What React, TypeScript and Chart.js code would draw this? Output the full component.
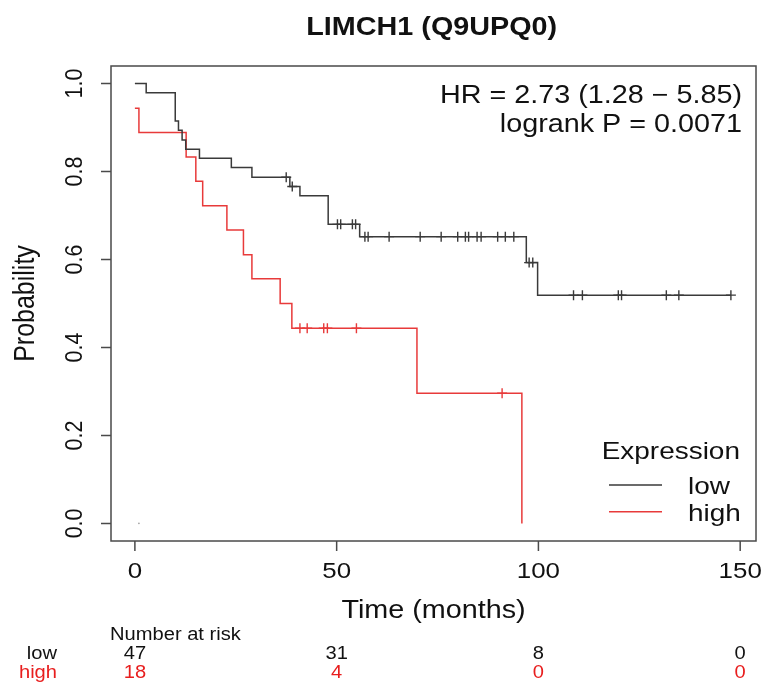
import React, { useEffect, useRef } from "react";
import { Chart, registerables } from "chart.js";

Chart.register(...registerables);

// ---- data ----
const lowTimes = [0, 2.8, 10.0, 10.8, 11.7, 12.6, 16.0, 23.9, 29.0, 38.4, 40.9, 47.9, 55.7, 97.0, 99.8, 147.7];
const lowSurv = [1.0, 0.979, 0.915, 0.894, 0.872, 0.851, 0.83, 0.809, 0.787, 0.766, 0.745, 0.68, 0.652, 0.593, 0.519, 0.519];
const lowCensor = [37.5, 39.0, 50.2, 51.0, 53.9, 54.7, 57.0, 57.8, 63.0, 70.7, 75.9, 80.0, 81.9, 82.7, 84.8, 85.8, 89.9, 91.8, 93.9, 97.7, 98.6, 108.7, 110.9, 119.8, 120.6, 131.7, 134.8, 147.7];

const highTimes = [0, 1.0, 12.7, 15.1, 16.8, 22.8, 26.9, 29.0, 36.0, 38.9, 69.9, 95.9];
const highSurv = [0.944, 0.889, 0.833, 0.778, 0.722, 0.667, 0.611, 0.556, 0.5, 0.444, 0.296, 0.0];
const highCensor = [40.9, 42.7, 46.8, 47.7, 54.9, 91.0];

const strayPoint = [{ x: 1, y: 0 }];

const xTicks = [0, 50, 100, 150];
const yTicks = [0, 0.2, 0.4, 0.6, 0.8, 1.0];

const riskTimes = [0, 50, 100, 150];
const riskLow = [47, 31, 8, 0];
const riskHigh = [18, 4, 0, 0];

const TITLE = "LIMCH1 (Q9UPQ0)";
const HR_TEXT = "HR = 2.73 (1.28 \u2212 5.85)";
const P_TEXT = "logrank P = 0.0071";

const LOW_COLOR = "#3a3a3a";
const HIGH_COLOR = "rgb(232,58,58)";
const FONT = "'Liberation Sans', Arial, Helvetica, sans-serif";

function survAt(times: number[], surv: number[], t: number) {
  let v = surv[0];
  for (let i = 0; i < times.length; i++) {
    if (times[i] <= t) v = surv[i];
  }
  return v;
}

function txt(
  ctx: CanvasRenderingContext2D,
  s: string,
  x: number,
  y: number,
  size: number,
  opts: { align?: CanvasTextAlign; bold?: boolean; color?: string; sx?: number; rot?: boolean } = {}
) {
  const { align = "left", bold = false, color = "#111", sx = 1.15, rot = false } = opts;
  ctx.save();
  ctx.translate(x, y);
  if (rot) {
    ctx.rotate(-Math.PI / 2);
    ctx.scale(1, sx);
  } else {
    ctx.scale(sx, 1);
  }
  ctx.font = `${bold ? "bold " : ""}${size}px ${FONT}`;
  ctx.fillStyle = color;
  ctx.textAlign = align;
  ctx.textBaseline = "alphabetic";
  ctx.fillText(s, 0, 0);
  ctx.restore();
}

const decorPlugin = {
  id: "kmDecor",
  afterDraw(chart: any) {
    const ctx: CanvasRenderingContext2D = chart.ctx;
    const { left, top, right, bottom } = chart.chartArea;
    const xs = chart.scales.x;
    const ys = chart.scales.y;
    ctx.save();
    // box
    ctx.strokeStyle = "#4a4a4a";
    ctx.lineWidth = 1.5;
    ctx.strokeRect(left, top, right - left, bottom - top);
    // x ticks
    ctx.beginPath();
    for (const v of xTicks) {
      const px = xs.getPixelForValue(v);
      ctx.moveTo(px, bottom);
      ctx.lineTo(px, bottom + 10);
    }
    for (const v of yTicks) {
      const py = ys.getPixelForValue(v);
      ctx.moveTo(left, py);
      ctx.lineTo(left - 10, py);
    }
    ctx.stroke();
    for (const v of xTicks) {
      txt(ctx, String(v), xs.getPixelForValue(v), 578, 22.5, { align: "center" });
    }
    for (const v of yTicks) {
      txt(ctx, v.toFixed(1), 81.5, ys.getPixelForValue(v), 21.5, { align: "center", rot: true });
    }
    // axis titles
    txt(ctx, "Time (months)", (left + right) / 2, 618, 25, { align: "center" });
    txt(ctx, "Probability", 34, (ys.getPixelForValue(0) + ys.getPixelForValue(1)) / 2, 25, { align: "center", rot: true });
    // title
    txt(ctx, TITLE, 431.7, 35, 25, { align: "center", bold: true });
    // HR text
    txt(ctx, HR_TEXT, 742, 103, 25, { align: "right" });
    txt(ctx, P_TEXT, 742, 131.5, 25, { align: "right" });
    // legend
    txt(ctx, "Expression", 601.7, 458.5, 24.3);
    ctx.lineWidth = 1.5;
    ctx.strokeStyle = LOW_COLOR;
    ctx.beginPath();
    ctx.moveTo(609, 485);
    ctx.lineTo(662, 485);
    ctx.stroke();
    ctx.strokeStyle = HIGH_COLOR;
    ctx.beginPath();
    ctx.moveTo(609, 511.7);
    ctx.lineTo(662, 511.7);
    ctx.stroke();
    txt(ctx, "low", 688, 494, 24.3);
    txt(ctx, "high", 688, 520.5, 24.3);
    // risk table
    txt(ctx, "Number at risk", 110, 640, 17.5);
    txt(ctx, "low", 57, 659, 17.5, { align: "right" });
    txt(ctx, "high", 57, 678, 17.5, { align: "right", color: "#e81e1e" });
    riskTimes.forEach((t, i) => {
      const px = xs.getPixelForValue(t);
      txt(ctx, String(riskLow[i]), px, 659, 17.5, { align: "center" });
      txt(ctx, String(riskHigh[i]), px, 678, 17.5, { align: "center", color: "#e81e1e" });
    });
    ctx.restore();
  },
};

export default function App() {
  const ref = useRef<HTMLCanvasElement | null>(null);
  useEffect(() => {
    if (!ref.current) return;
    const lowPts = lowTimes.map((t, i) => ({ x: t, y: lowSurv[i] }));
    const highPts = highTimes.map((t, i) => ({ x: t, y: highSurv[i] }));
    const lowC = lowCensor.map((t) => ({ x: t, y: survAt(lowTimes, lowSurv, t) }));
    const highC = highCensor.map((t) => ({ x: t, y: survAt(highTimes, highSurv, t) }));
    const chart = new Chart(ref.current, {
      type: "line",
      data: {
        datasets: [
          {
            label: "low",
            data: lowPts,
            stepped: "before",
            borderColor: LOW_COLOR,
            borderWidth: 1.5,
            pointRadius: 0,
            fill: false,
          },
          {
            label: "high",
            data: highPts,
            stepped: "before",
            borderColor: HIGH_COLOR,
            borderWidth: 1.5,
            pointRadius: 0,
            fill: false,
          },
          {
            label: "low censored",
            data: lowC,
            showLine: false,
            pointStyle: "cross",
            pointRadius: 5,
            pointBorderWidth: 1.4,
            borderColor: LOW_COLOR,
            backgroundColor: LOW_COLOR,
          },
          {
            label: "high censored",
            data: highC,
            showLine: false,
            pointStyle: "cross",
            pointRadius: 5,
            pointBorderWidth: 1.4,
            borderColor: HIGH_COLOR,
            backgroundColor: HIGH_COLOR,
          },
          {
            label: "stray",
            data: strayPoint,
            showLine: false,
            pointStyle: "circle",
            pointRadius: 0.8,
            pointBorderWidth: 0,
            borderColor: "#999",
            backgroundColor: "#999",
          },
        ],
      },
      options: {
        animation: false,
        responsive: true,
        maintainAspectRatio: false,
        events: [],
        layout: { padding: { left: 111, top: 66, right: 8, bottom: 143 } },
        scales: {
          x: { type: "linear", min: -5.92, max: 153.92, display: false },
          y: { type: "linear", min: -0.04, max: 1.04, display: false },
        },
        plugins: {
          legend: { display: false },
          tooltip: { enabled: false },
          title: { display: false },
        },
      },
      plugins: [decorPlugin],
    });
    return () => chart.destroy();
  }, []);
  return (
    <div style={{ position: "absolute", left: 0, top: 0, width: 764, height: 684, background: "#fff" }}>
      <canvas ref={ref} />
    </div>
  );
}
